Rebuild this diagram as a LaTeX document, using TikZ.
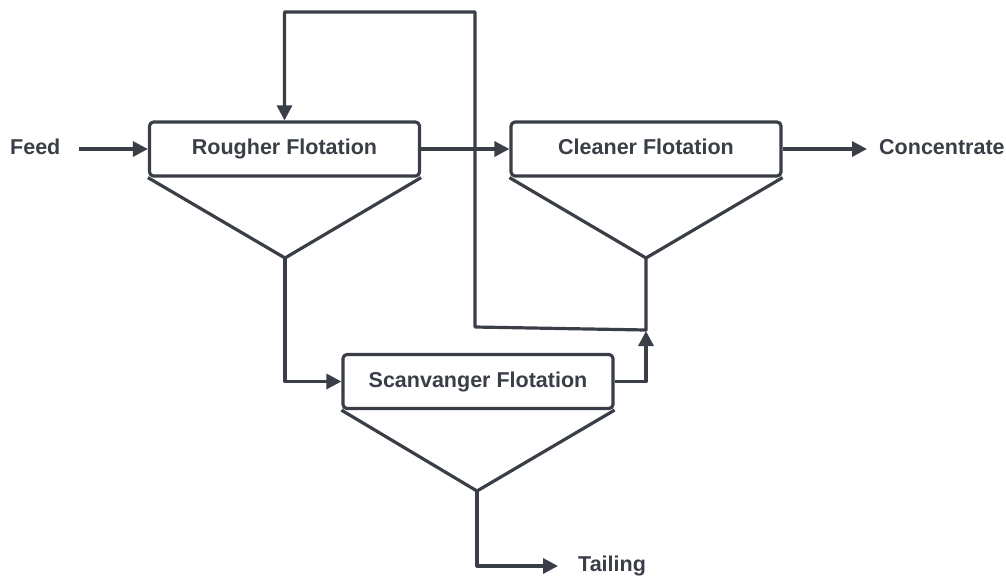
\documentclass[tikz,border=0pt]{standalone}
\usepackage{fontspec}
\setmainfont{Liberation Sans}
\usetikzlibrary{arrows.meta}
\definecolor{ink}{RGB}{58,63,71}
\begin{document}
\begin{tikzpicture}[x=1pt,y=-1pt,
  line/.style={draw=ink,line width=3.2pt,line join=round},
  arr/.style={line,-{Triangle[length=15pt,width=15pt]}},
  cell/.style={line,rectangle,rounded corners=4pt,minimum width=270pt,minimum height=54pt,inner sep=0pt,
     font=\fontsize{21.5}{25}\selectfont\bfseries,text=ink,fill=white,text height=11.5pt,text depth=0pt},
  lbl/.style={font=\fontsize{21.5}{25}\selectfont\bfseries,text=ink,inner sep=0pt}]
\useasboundingbox (0,0) rectangle (1006,576);
\node[cell] (R) at (284.5,149) {Rougher Flotation};
\node[cell] (C) at (646,149) {Cleaner Flotation};
\node[cell] (S) at (478,381.5) {Scanvanger Flotation};
\coordinate (Ra) at (285,258);
\coordinate (Ca) at (646,258);
\coordinate (Sa) at (477,491);
\coordinate (J) at (646,330);
\coordinate (Jl) at (475,327);
\coordinate (Top) at (475,12);
\draw[line] (R.south west) -- (Ra) -- (R.south east);
\draw[line] (C.south west) -- (Ca) -- (C.south east);
\draw[line] (S.south west) -- (Sa) -- (S.south east);
\node[lbl,anchor=west] (feed) at (10,147) {Feed};
\node[lbl,anchor=west] (conc) at (879,147) {Concentrate};
\node[lbl,anchor=west] (tail) at (578,566) {Tailing};
\draw[arr] ([xshift=18pt]R.west -| feed.east) -- (R.west);
\draw[arr] (R.east) -- (C.west);
\draw[arr,shorten >=12pt] (C.east) -- (C.east -| conc.west);
\draw[arr] (Ca) -- (J) -- (Jl) -- (Top) -| (R.north);
\draw[arr,shorten >=1pt] (S.east) -| (J);
\draw[arr] (Ra) |- (S.west);
\draw[arr,shorten >=20pt] (Sa) |- (tail.west);
\end{tikzpicture}
\end{document}
